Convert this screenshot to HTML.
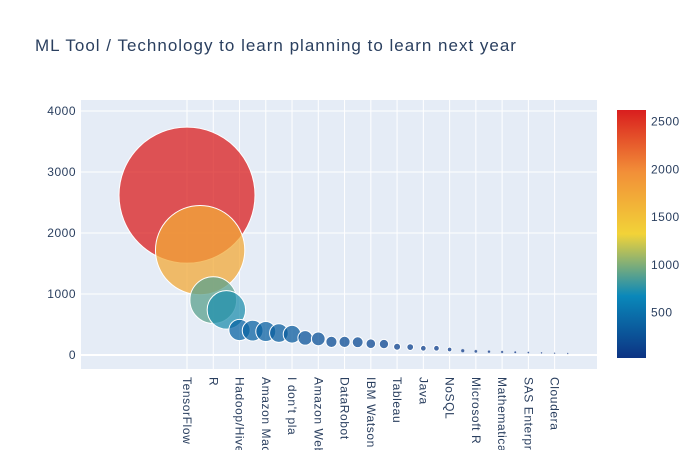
<!DOCTYPE html>
<html><head><meta charset="utf-8"><style>
html,body{margin:0;padding:0;background:#fff;width:700px;height:450px;overflow:hidden;}
svg{display:block;font-family:"Liberation Sans",sans-serif;overflow:hidden;}
</style></head><body>
<svg id="chart" width="700" height="450" viewBox="0 0 700 450">
<defs>
<linearGradient id="portland" x1="0" y1="1" x2="0" y2="0">
<stop offset="0" stop-color="rgb(12,51,131)"/>
<stop offset="0.25" stop-color="rgb(10,136,186)"/>
<stop offset="0.5" stop-color="rgb(242,211,56)"/>
<stop offset="0.75" stop-color="rgb(242,143,56)"/>
<stop offset="1" stop-color="rgb(217,30,30)"/>
</linearGradient>
<clipPath id="plotclip"><rect x="81" y="100" width="516" height="269"/></clipPath>
</defs>
<text x="35" y="51" font-size="17" letter-spacing="1" fill="#2a3f5f">ML Tool / Technology to learn planning to learn next year</text>
<rect x="81" y="100" width="516" height="269" fill="#e5ecf6"/>
<g id="grid"></g><g id="bubbles" clip-path="url(#plotclip)"></g><g id="axes"></g>
<rect x="617" y="110" width="29" height="248" fill="url(#portland)"/>
<g id="cbticks"></g>
</svg>
<script>
const categories = ["TensorFlow","Python","R","Spark / MLlib","Hadoop/Hive/Pig","Jupyter notebooks","Amazon Machine Learning","Microsoft Azure Machine Learning","I don't plan on learning a new tool/technology","Google Cloud Compute Engine","Amazon Web services","C/C++","DataRobot","Julia","IBM Watson / Waton Analytics","MATLAB/Octave","Tableau","Knime","Java","SQL","NoSQL","Perl","Microsoft R Server","Excel","Mathematica","Stata","SAS Enterprise Miner","SAS Base","Cloudera","SPSS"];
const values = [2620,1720,900,740,410,400,385,360,340,280,265,215,215,210,185,180,135,130,110,110,90,70,60,55,50,45,40,35,30,25];
const yTicks = [0,1000,2000,3000,4000];
const cbTicks = [500,1000,1500,2000,2500];

const NS="http://www.w3.org/2000/svg";
const px0=187, step=13.13;
const xScale=i=>px0+i*step;
const yScale=v=>355-v*(244/4000);
const vmin=Math.min(...values), vmax=Math.max(...values);
const cbScale=v=>358-(v-vmin)/(vmax-vmin)*248;
const stops=[[0,[12,51,131]],[0.25,[10,136,186]],[0.5,[242,211,56]],[0.75,[242,143,56]],[1,[217,30,30]]];
function color(v){let t=(v-vmin)/(vmax-vmin);for(let k=1;k<stops.length;k++){if(t<=stops[k][0]){const a=stops[k-1],b=stops[k];const f=(t-a[0])/(b[0]-a[0]);return 'rgb('+a[1].map((c,j)=>Math.round(c+(b[1][j]-c)*f)).join(',')+')';}}return 'rgb(217,30,30)';}
function mk(tag,attrs,parent){const e=document.createElementNS(NS,tag);for(const k in attrs)e.setAttribute(k,attrs[k]);parent.appendChild(e);return e;}
const grid=document.getElementById('grid'),bub=document.getElementById('bubbles'),axes=document.getElementById('axes'),cbt=document.getElementById('cbticks');
yTicks.forEach(t=>{
  const l=mk('line',{x1:81,x2:597,y1:yScale(t),y2:yScale(t),stroke:'#fff','stroke-width':t===0?2:1},grid);
  
  
  const tx=mk('text',{x:76,y:yScale(t)+4,'text-anchor':'end','font-size':12,'letter-spacing':0.5,fill:'#2a3f5f'},axes);
  tx.textContent=t;
  
  
});
categories.forEach((c,i)=>{
  if(i%2!==0)return;
  const x=xScale(i);
  const l=mk('line',{x1:x,x2:x,y1:100,y2:369,stroke:'#fff','stroke-width':1},grid);
  
  
  const tx=mk('text',{transform:'translate('+(x-4)+',377) rotate(90)','font-size':12,'letter-spacing':0.6,fill:'#2a3f5f'},axes);
  tx.textContent=c.length>11?c.slice(0,11):c;
  
  
});
values.forEach((v,i)=>{
  const r=Math.max(68*v/vmax,0.8);
  const c=mk('circle',{cx:xScale(i),cy:yScale(v),r:r,fill:color(v),'fill-opacity':0.75,stroke:'#fff','stroke-width':r>2?1:0.3},bub);
  
  
});
cbTicks.forEach(t=>{
  const tx=mk('text',{x:651,y:cbScale(t)+4,'font-size':12,'letter-spacing':0.5,fill:'#2a3f5f'},cbt);
  tx.textContent=t;
  
  
});
</script>
</body></html>
